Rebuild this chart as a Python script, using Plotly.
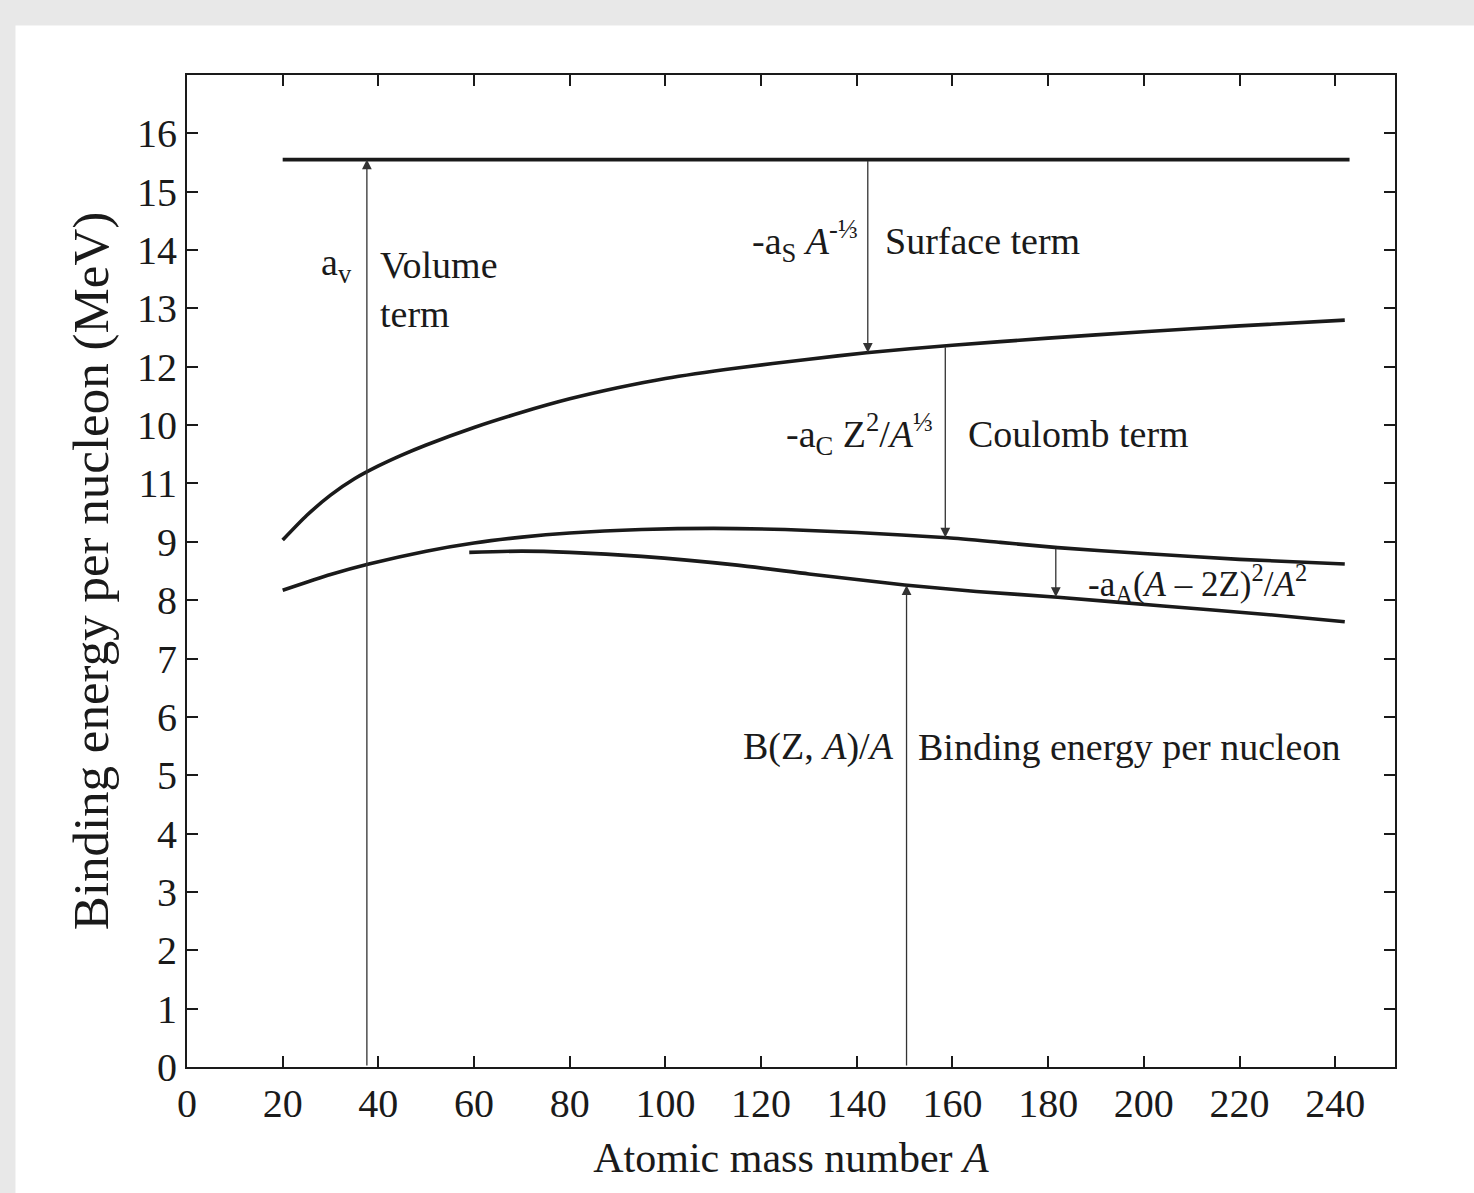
import numpy as np
import plotly.graph_objects as go

# ---------------- data ----------------
A_volume = [20, 243]
volume_term = [15.55, 15.55]

A_surface = [20, 25, 30, 35, 40, 45, 50, 60, 70, 80, 90, 100, 115, 130, 142, 160, 180, 200, 220, 242]
surface_curve = [9.03, 9.45, 9.8, 10.08, 10.3, 10.49, 10.66, 10.96, 11.22, 11.45, 11.64, 11.8, 11.98, 12.13, 12.24, 12.37, 12.49, 12.6, 12.7, 12.8]

A_coulomb = [20, 30, 38, 50, 60, 70, 80, 95, 110, 125, 140, 159, 170, 182, 200, 220, 242]
coulomb_curve = [8.17, 8.44, 8.62, 8.84, 8.98, 9.08, 9.15, 9.21, 9.23, 9.21, 9.16, 9.07, 8.99, 8.9, 8.8, 8.7, 8.62]

A_binding = [59, 70, 80, 95, 115, 130, 150, 165, 182, 204, 225, 242]
binding_curve = [8.82, 8.84, 8.82, 8.75, 8.6, 8.45, 8.26, 8.15, 8.05, 7.9, 7.76, 7.63]

x_ticks = list(range(0, 241, 20))
y_ticks = list(range(0, 17))
y_tick_text = ['0', '1', '2', '3', '4', '5', '6', '7', '8', '9', '11', '10', '12', '13', '14', '15', '16']

# positions (A) of the vertical arrows
A_arrow_volume = 37.6
A_arrow_surface = 142.3
A_arrow_coulomb = 158.5
A_arrow_asym = 181.6
A_arrow_binding = 150.4

FONT = "Liberation Serif"
INK = "#1a1a1a"

fig = go.Figure()
for xs, ys in [(A_volume, volume_term), (A_surface, surface_curve),
               (A_coulomb, coulomb_curve), (A_binding, binding_curve)]:
    fig.add_trace(go.Scatter(x=xs, y=ys, mode="lines",
                             line=dict(color=INK, width=3.6, shape="spline", smoothing=0.6),
                             showlegend=False, hoverinfo="skip"))

def val(xs, ys, a):
    return float(np.interp(a, xs, ys))

arrows = [
    (A_arrow_volume, 0.0, val(A_volume, volume_term, A_arrow_volume)),
    (A_arrow_surface, val(A_volume, volume_term, A_arrow_surface), val(A_surface, surface_curve, A_arrow_surface)),
    (A_arrow_coulomb, val(A_surface, surface_curve, A_arrow_coulomb), val(A_coulomb, coulomb_curve, A_arrow_coulomb)),
    (A_arrow_asym, val(A_coulomb, coulomb_curve, A_arrow_asym), val(A_binding, binding_curve, A_arrow_asym)),
    (A_arrow_binding, 0.0, val(A_binding, binding_curve, A_arrow_binding)),
]
annotations = []
for a, y0, y1 in arrows:
    annotations.append(dict(x=a, y=y1, ax=a, ay=y0, xref="x", yref="y", axref="x", ayref="y",
                            text="", showarrow=True, arrowhead=2, arrowsize=1.5,
                            arrowwidth=1.3, arrowcolor="#333333"))

def label(x, y, text, anchor, size=38):
    annotations.append(dict(x=x, y=y, xref="x", yref="y", text=text, showarrow=False,
                            xanchor=anchor, yanchor="middle", align="left",
                            font=dict(family=FONT, size=size, color=INK)))

label(35.0, 13.75, "a<sub>v</sub>", "right")
label(40.0, 13.33, "Volume<br>term", "left")
label(140.6, 14.16, "-a<sub>S</sub> <i>A</i><sup>-⅓</sup>", "right")
label(145.4, 14.16, "Surface term", "left")
label(156.3, 10.84, "-a<sub>C</sub> Z<sup>2</sup>/<i>A</i><sup>⅓</sup>", "right")
label(162.8, 10.84, "Coulomb term", "left")
label(188.0, 8.28, "-a<sub>A</sub>(<i>A</i> – 2Z)<sup>2</sup>/<i>A</i><sup>2</sup>", "left", size=35)
label(148.3, 5.49, "B(Z, <i>A</i>)/<i>A</i>", "right")
label(152.3, 5.49, "Binding energy per nucleon", "left")

axis_common = dict(showline=True, linecolor=INK, linewidth=2, mirror="ticks",
                   ticks="inside", ticklen=11, tickwidth=1.5, tickcolor=INK,
                   showgrid=False, zeroline=False,
                   tickfont=dict(family=FONT, size=40, color=INK))

fig.update_layout(
    width=1474, height=1193,
    margin=dict(l=187, r=79, t=75, b=126),
    paper_bgcolor="#e8e8e8", plot_bgcolor="white",
    xaxis=dict(range=[0, 252.5], tickvals=x_ticks, ticktext=[str(v) for v in x_ticks],
               title=dict(text="Atomic mass number <i>A</i>", standoff=18,
                          font=dict(family=FONT, size=42, color=INK)),
               **axis_common),
    yaxis=dict(range=[0, 17.0], tickvals=y_ticks, ticktext=y_tick_text,
               title=dict(text="Binding energy per nucleon (MeV)", standoff=12,
                          font=dict(family=FONT, size=51, color=INK)),
               **axis_common),
    annotations=annotations,
    shapes=[dict(type="rect", xref="paper", yref="paper", layer="below",
                 x0=-0.142, x1=1.1, y0=-0.2, y1=1.05,
                 fillcolor="white", line=dict(width=0))],
)

fig.write_html("out.html")
